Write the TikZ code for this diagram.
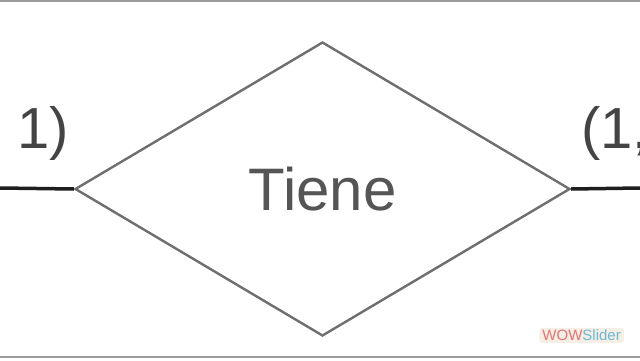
\documentclass[tikz,border=0pt]{standalone}
\usepackage{fontspec}
\setmainfont{Liberation Sans}
\usetikzlibrary{shapes.geometric}
\definecolor{Rule}{HTML}{9A9A9A}
\definecolor{Edge}{HTML}{6E6E6E}
\definecolor{Link}{HTML}{1E1E1E}
\definecolor{Ink}{HTML}{555555}
\definecolor{Card}{HTML}{444444}
\definecolor{BadgeBg}{HTML}{F4EEE4}
\definecolor{BadgeRed}{HTML}{E27474}
\definecolor{BadgeBlue}{HTML}{6DB9D6}

\begin{document}
\begin{tikzpicture}[
  x=1pt, y=1pt,
  relation/.style={
    diamond,
    draw=Edge,
    line width=2.4pt,
    inner sep=0pt,
    minimum width=495pt,
    minimum height=294pt,
    text=Ink,
    font=\fontsize{60}{60}\selectfont
  },
  link/.style={
    draw=Link,
    line width=3.5pt
  },
  card/.style={
    text=Card,
    inner sep=0pt,
    font=\fontsize{58}{58}\selectfont
  },
  badge/.style={
    fill=BadgeBg,
    rounded corners=3pt,
    inner xsep=3pt,
    inner ysep=2pt,
    font=\fontsize{15}{15}\selectfont
  }
]

\useasboundingbox (0,0) rectangle (640,360);
\clip (0,0) rectangle (640,360);

% frame lines of the slide
\draw[Rule, line width=2.5pt] (0,359) -- (640,359);
\draw[Rule, line width=2pt] (0,3) -- (640,3);

% relationship
\node[relation] (rel) at (322.5,171) {\raisebox{-2pt}{Tiene}};

\coordinate (lend) at (0,172);
\coordinate (rend) at (640,172);
\draw[link] (lend) -- (rel.west);
\draw[link] (rel.east) -- (rend);

% cardinalities
\node[card, anchor=base east] (cl) at (69,212) {1)};
\node[card, anchor=base west] (cr) at (581,212) {(1,};

% slider mark
\node[badge, anchor=south east] (wow) at (624,17)
  {\textcolor{BadgeRed}{WOW}\textcolor{BadgeBlue}{Slider}};

\end{tikzpicture}
\end{document}
